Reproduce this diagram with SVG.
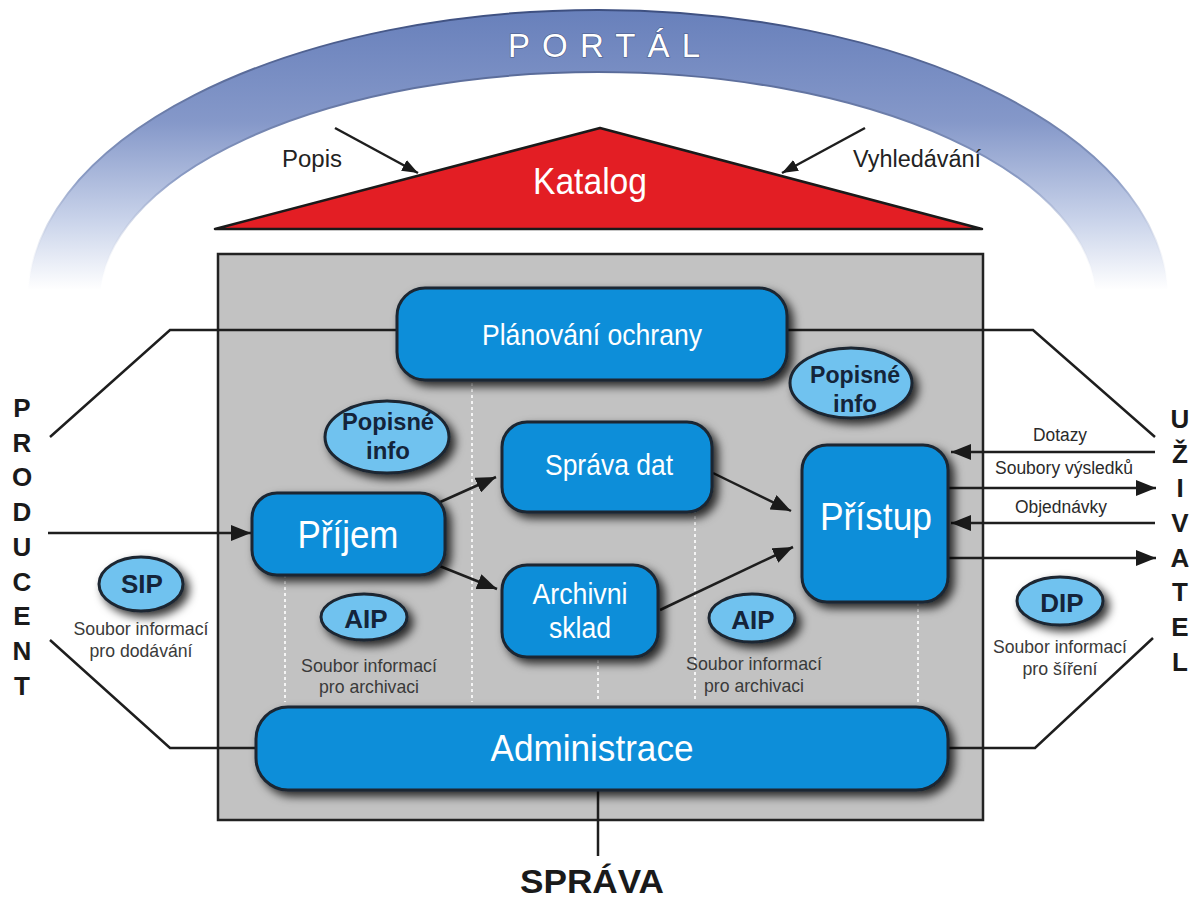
<svg xmlns="http://www.w3.org/2000/svg" width="1190" height="898" viewBox="0 0 1190 898">
<defs>
<linearGradient id="arcFill" gradientUnits="userSpaceOnUse" x1="0" y1="10" x2="0" y2="290">
<stop offset="0" stop-color="#6880bb"/>
<stop offset="0.4" stop-color="#8598c9"/>
<stop offset="0.75" stop-color="#c9d3ea"/>
<stop offset="1" stop-color="#ffffff"/>
</linearGradient>
<linearGradient id="arcEdge" gradientUnits="userSpaceOnUse" x1="0" y1="10" x2="0" y2="290">
<stop offset="0" stop-color="#3d4f80"/>
<stop offset="0.6" stop-color="#8a9bc4"/>
<stop offset="1" stop-color="#ffffff" stop-opacity="0"/>
</linearGradient>
<filter id="shadow" x="-20%" y="-30%" width="140%" height="170%">
<feDropShadow dx="5" dy="5" stdDeviation="5" flood-color="#000" flood-opacity="0.8"/>
</filter>
<marker id="arr" viewBox="0 0 20 16" refX="20" refY="8" markerWidth="20" markerHeight="16" markerUnits="userSpaceOnUse" orient="auto">
<path d="M0,0 L20,8 L0,16 Z" fill="#1a1a1a"/>
</marker>
<marker id="arrS" viewBox="0 0 16 12" refX="16" refY="6" markerWidth="16" markerHeight="12" markerUnits="userSpaceOnUse" orient="auto">
<path d="M0,0 L16,6 L0,12 Z" fill="#1a1a1a"/>
</marker>
<style>
.box{fill:#0b8ed9;stroke:#1b2530;stroke-width:3;filter:url(#shadow)}
.ell{fill:#70c2ef;stroke:#1b2530;stroke-width:3;filter:url(#shadow)}
.wt{font-family:"Liberation Sans",Arial,sans-serif;fill:#ffffff;text-anchor:middle}
.et{font-family:"Liberation Sans",Arial,sans-serif;font-weight:bold;fill:#14243a;text-anchor:middle}
.cap{font-family:"Liberation Sans",Arial,sans-serif;font-size:19px;fill:#3a3a3a;text-anchor:middle}
.lbl{font-family:"Liberation Sans",Arial,sans-serif;font-size:18px;fill:#2a2a2a;text-anchor:middle}
.side{font-family:"Liberation Sans",Arial,sans-serif;font-weight:bold;font-size:26px;fill:#1a1a1a;text-anchor:middle}
.ln{fill:none;stroke:#1e1e1e;stroke-width:2.5}
.dot{stroke:#f4f4f4;stroke-width:2;stroke-dasharray:3 3}
</style>
</defs>
<rect x="0" y="0" width="1190" height="898" fill="#ffffff"/>

<g id="portal">
<path d="M28,300 A570,290 0 0 1 1168,300 L1096,300 A498,228 0 0 0 100,300 Z" fill="url(#arcFill)" stroke="url(#arcEdge)" stroke-width="2"/>
<text x="604" y="57" font-family="Liberation Sans, Arial, sans-serif" font-size="33" fill="#ffffff" stroke="#4a5a85" stroke-width="1.2" paint-order="stroke" text-anchor="middle" textLength="192" lengthAdjust="spacing">PORTÁL</text>
</g>

<g id="katalog">
<polygon points="600,128 215,229 982,229" fill="#e31e24" stroke="#1a1a1a" stroke-width="2.5" stroke-linejoin="round"/>
<text class="wt" x="590" y="194" font-size="37" textLength="114" lengthAdjust="spacingAndGlyphs">Katalog</text>
</g>

<g id="labels-top">
<text x="282" y="167" font-family="Liberation Sans, Arial, sans-serif" font-size="23" fill="#222" textLength="60" lengthAdjust="spacingAndGlyphs">Popis</text>
<text x="853" y="167" font-family="Liberation Sans, Arial, sans-serif" font-size="23" fill="#222" textLength="128" lengthAdjust="spacingAndGlyphs">Vyhledávání</text>
</g>

<g id="system">
<rect x="218" y="254" width="765" height="566" fill="#c2c2c2" stroke="#222" stroke-width="2.5"/>
<line class="dot" x1="285" y1="575" x2="285" y2="702"/>
<line class="dot" x1="472" y1="383" x2="472" y2="702"/>
<line class="dot" x1="598" y1="660" x2="598" y2="702"/>
<line class="dot" x1="695" y1="510" x2="695" y2="702"/>
<line class="dot" x1="918" y1="603" x2="918" y2="702"/>
</g>

<g id="connectors">
<path class="ln" d="M420,330 H170 L50,437"/>
<path class="ln" d="M260,748 H170 L50,640"/>
<path class="ln" d="M780,330 H1033 L1155,437"/>
<path class="ln" d="M940,748 H1035 L1153,638"/>
<path class="ln" d="M598,785 V856"/>
<line class="ln" x1="335" y1="128" x2="418" y2="173" marker-end="url(#arrS)"/>
<line class="ln" x1="865" y1="128" x2="782" y2="173" marker-end="url(#arrS)"/>
<line class="ln" x1="48" y1="533" x2="251" y2="533" marker-end="url(#arr)"/>
<line class="ln" x1="438" y1="503" x2="496" y2="477" marker-end="url(#arr)"/>
<line class="ln" x1="437" y1="565" x2="497" y2="589" marker-end="url(#arr)"/>
<line class="ln" x1="713" y1="473" x2="791" y2="511" marker-end="url(#arr)"/>
<line class="ln" x1="660" y1="610" x2="793" y2="547" marker-end="url(#arr)"/>
<line class="ln" x1="1155" y1="452" x2="951" y2="452" marker-end="url(#arr)"/>
<line class="ln" x1="948" y1="488" x2="1156" y2="488" marker-end="url(#arr)"/>
<line class="ln" x1="1155" y1="523" x2="951" y2="523" marker-end="url(#arr)"/>
<line class="ln" x1="948" y1="558" x2="1156" y2="558" marker-end="url(#arr)"/>
</g>

<g id="planovani">
<rect class="box" x="397" y="288" width="390" height="92" rx="28"/>
<text class="wt" x="592" y="345" font-size="29" textLength="220" lengthAdjust="spacingAndGlyphs">Plánování ochrany</text>
</g>
<g id="sprava-dat">
<rect class="box" x="502" y="422" width="210" height="90" rx="25"/>
<text class="wt" x="609" y="475" font-size="29" textLength="128" lengthAdjust="spacingAndGlyphs">Správa dat</text>
</g>
<g id="archivni-sklad">
<rect class="box" x="502" y="565" width="156" height="92" rx="25"/>
<text class="wt" x="580" y="604" font-size="29" textLength="95" lengthAdjust="spacingAndGlyphs">Archivni</text>
<text class="wt" x="580" y="638" font-size="29" textLength="62" lengthAdjust="spacingAndGlyphs">sklad</text>
</g>
<g id="prijem">
<rect class="box" x="252" y="493" width="193" height="82" rx="25"/>
<text class="wt" x="348" y="548" font-size="38" textLength="101" lengthAdjust="spacingAndGlyphs">Příjem</text>
</g>
<g id="pristup">
<rect class="box" x="802" y="445" width="146" height="157" rx="25"/>
<text class="wt" x="876" y="530" font-size="38" textLength="112" lengthAdjust="spacingAndGlyphs">Přístup</text>
</g>
<g id="administrace">
<rect class="box" x="256" y="707" width="692" height="83" rx="32"/>
<text class="wt" x="592" y="761" font-size="37" textLength="203" lengthAdjust="spacingAndGlyphs">Administrace</text>
</g>

<g id="popisne-info-1">
<ellipse class="ell" cx="387" cy="437" rx="62" ry="36"/>
<text class="et" x="388" y="430" font-size="24" textLength="92" lengthAdjust="spacingAndGlyphs">Popisné</text>
<text class="et" x="388" y="459" font-size="24">info</text>
</g>
<g id="popisne-info-2">
<ellipse class="ell" cx="851" cy="383" rx="61" ry="35"/>
<text class="et" x="855" y="383" font-size="24" textLength="90" lengthAdjust="spacingAndGlyphs">Popisné</text>
<text class="et" x="855" y="412" font-size="24">info</text>
</g>
<g id="sip">
<ellipse class="ell" cx="141" cy="584" rx="42" ry="27"/>
<text class="et" x="142" y="593" font-size="26">SIP</text>
<text class="cap" x="141" y="635" textLength="135" lengthAdjust="spacingAndGlyphs">Soubor informací</text>
<text class="cap" x="141" y="657" textLength="103" lengthAdjust="spacingAndGlyphs">pro dodávání</text>
</g>
<g id="aip-1">
<ellipse class="ell" cx="364" cy="617" rx="43" ry="23"/>
<text class="et" x="366" y="628" font-size="26">AIP</text>
<text class="cap" x="369" y="672" textLength="136" lengthAdjust="spacingAndGlyphs">Soubor informací</text>
<text class="cap" x="369" y="693" textLength="100" lengthAdjust="spacingAndGlyphs">pro archivaci</text>
</g>
<g id="aip-2">
<ellipse class="ell" cx="752" cy="618" rx="43" ry="24"/>
<text class="et" x="753" y="629" font-size="26">AIP</text>
<text class="cap" x="754" y="670" textLength="136" lengthAdjust="spacingAndGlyphs">Soubor informací</text>
<text class="cap" x="754" y="692" textLength="100" lengthAdjust="spacingAndGlyphs">pro archivaci</text>
</g>
<g id="dip">
<ellipse class="ell" cx="1060" cy="601" rx="43" ry="24"/>
<text class="et" x="1062" y="612" font-size="26">DIP</text>
<text class="cap" x="1060" y="653" textLength="134" lengthAdjust="spacingAndGlyphs">Soubor informací</text>
<text class="cap" x="1060" y="675" textLength="75" lengthAdjust="spacingAndGlyphs">pro šíření</text>
</g>

<g id="flow-labels">
<text class="lbl" x="1060" y="441" textLength="54" lengthAdjust="spacingAndGlyphs">Dotazy</text>
<text class="lbl" x="1064" y="474" textLength="138" lengthAdjust="spacingAndGlyphs">Soubory výsledků</text>
<text class="lbl" x="1061" y="513" textLength="92" lengthAdjust="spacingAndGlyphs">Objednávky</text>
</g>

<g id="producent">
<text class="side" x="22" y="417">P</text>
<text class="side" x="22" y="452">R</text>
<text class="side" x="22" y="486">O</text>
<text class="side" x="22" y="521">D</text>
<text class="side" x="22" y="556">U</text>
<text class="side" x="22" y="591">C</text>
<text class="side" x="22" y="625">E</text>
<text class="side" x="22" y="660">N</text>
<text class="side" x="22" y="695">T</text>
</g>
<g id="uzivatel">
<text class="side" x="1180" y="428">U</text>
<text class="side" x="1180" y="463">Ž</text>
<text class="side" x="1180" y="497">I</text>
<text class="side" x="1180" y="532">V</text>
<text class="side" x="1180" y="567">A</text>
<text class="side" x="1180" y="601">T</text>
<text class="side" x="1180" y="636">E</text>
<text class="side" x="1180" y="671">L</text>
</g>
<g id="sprava">
<text x="592" y="893" font-family="Liberation Sans, Arial, sans-serif" font-weight="bold" font-size="34" fill="#1a1a1a" text-anchor="middle" textLength="144" lengthAdjust="spacingAndGlyphs">SPRÁVA</text>
</g>
</svg>
